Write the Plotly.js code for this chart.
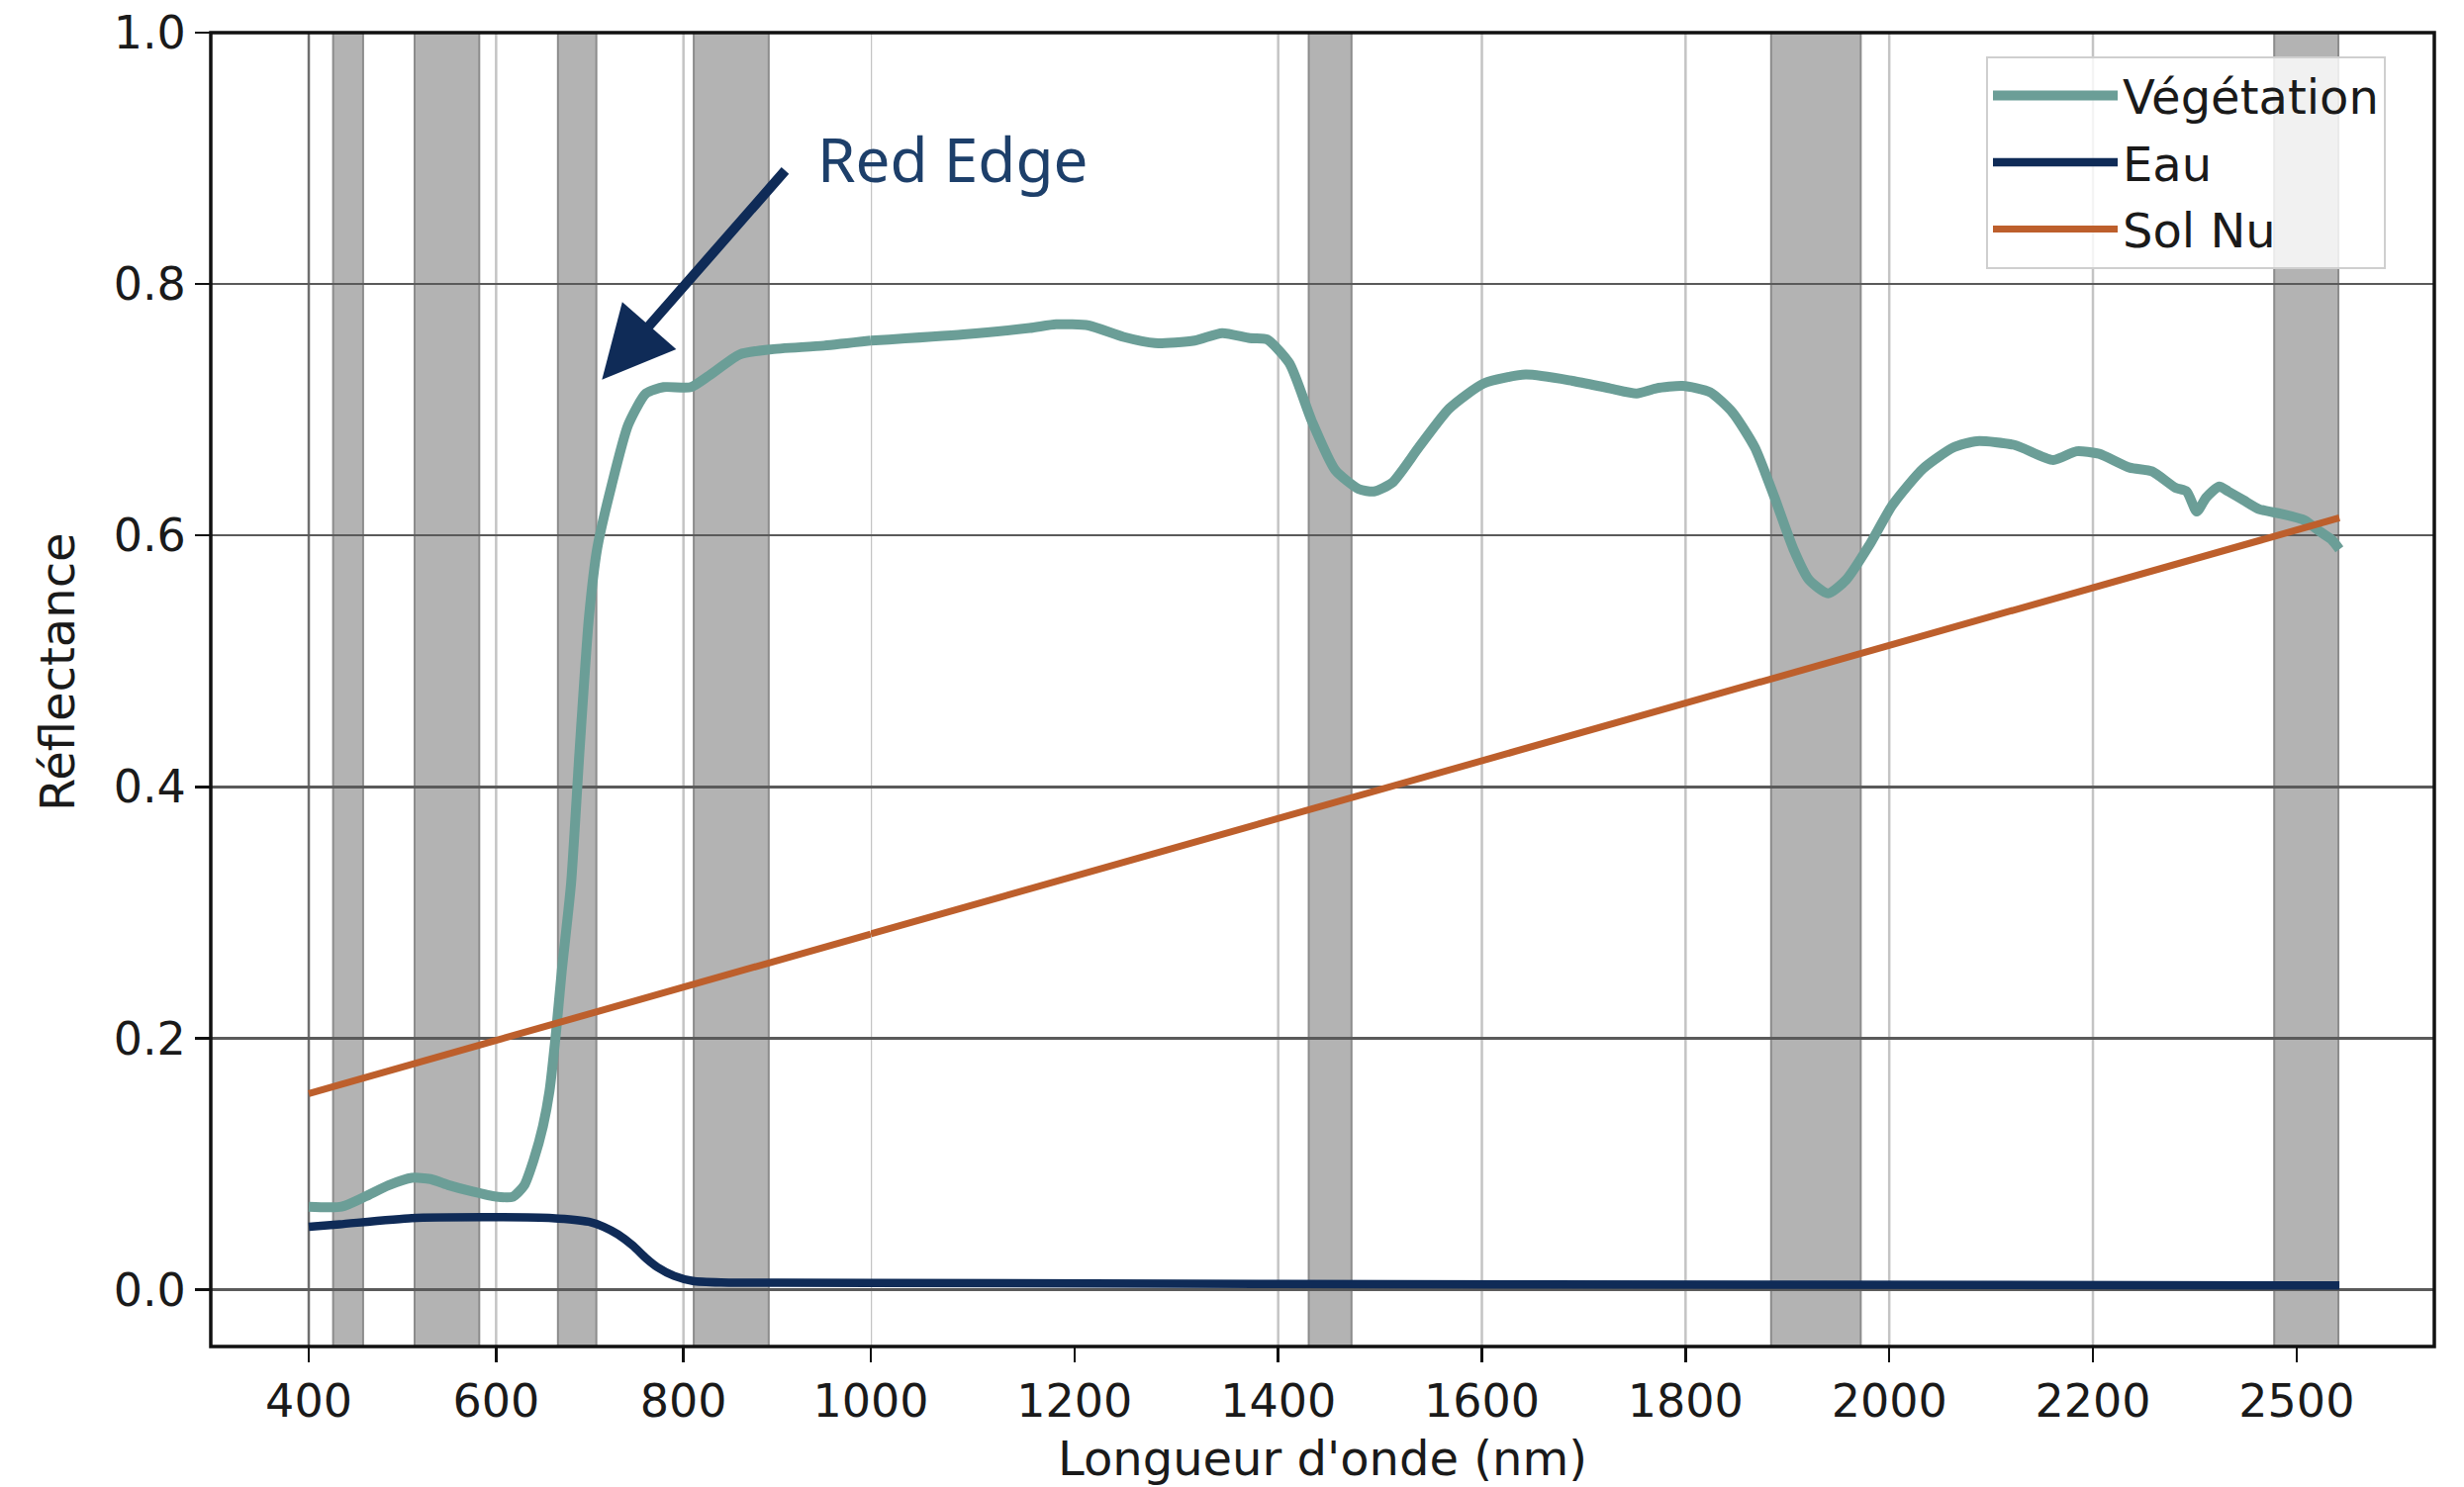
<!DOCTYPE html>
<html>
<head>
<meta charset="utf-8">
<script src="https://cdn.plot.ly/plotly-3.0.1.min.js"></script>
<style>
  html, body { margin: 0; padding: 0; background: #ffffff; }
  #chart { width: 2490px; height: 1503px; }
</style>
</head>
<body>
<div id="chart"></div>
<script>
// ---------------- data ----------------
const seriesNames = ['Végétation', 'Eau', 'Sol Nu'];
const seriesColors = ['#6b9e97', '#0f2b57', '#bd5f2c'];

const vegWl = [400, 435, 460, 485, 510, 530, 550, 575, 600, 618, 630, 640, 650, 657, 664, 670, 680, 689, 699, 708, 723, 741, 760, 779, 808, 827, 860, 892, 950, 1000,
  1091, 1156, 1182, 1214, 1248, 1279, 1318, 1345, 1372, 1389, 1411, 1433, 1456, 1479, 1494, 1512, 1538, 1568, 1602, 1643, 1689, 1726, 1752, 1771, 1797, 1824, 1846, 1868,
  1887, 1906, 1921, 1940, 1958, 1981, 2003, 2033, 2063, 2086, 2123, 2161, 2184, 2206, 2236, 2258, 2281, 2292, 2302, 2311, 2324, 2333, 2348, 2363, 2386, 2408, 2423, 2434, 2442];
const vegRefl = [0.066, 0.066, 0.074, 0.083, 0.089, 0.088, 0.083, 0.078, 0.074, 0.074, 0.083, 0.103, 0.130, 0.158, 0.205, 0.253, 0.323, 0.428, 0.534, 0.590, 0.639, 0.688, 0.713, 0.718, 0.718, 0.727, 0.744, 0.748, 0.751, 0.755,
  0.760, 0.765, 0.768, 0.767, 0.758, 0.753, 0.755, 0.761, 0.757, 0.756, 0.737, 0.691, 0.652, 0.637, 0.635, 0.642, 0.670, 0.701, 0.721, 0.728, 0.723, 0.717, 0.713, 0.717, 0.719, 0.714, 0.698, 0.670,
  0.631, 0.589, 0.565, 0.554, 0.565, 0.593, 0.624, 0.653, 0.670, 0.675, 0.672, 0.660, 0.667, 0.665, 0.654, 0.651, 0.638, 0.635, 0.619, 0.630, 0.639, 0.635, 0.628, 0.621, 0.617, 0.612, 0.603, 0.597, 0.589];

const eauWl = [400, 433, 510, 590, 660, 699, 715, 730, 746, 760, 772, 790, 810, 840, 900, 1000, 1400, 1900, 2442];
const eauRefl = [0.050, 0.052, 0.057, 0.0577, 0.057, 0.054, 0.050, 0.044, 0.035, 0.025, 0.018, 0.011, 0.007, 0.0058, 0.0055, 0.0054, 0.0045, 0.0040, 0.0034];

const solWl = [400, 600, 800, 1000, 1200, 1400, 1600, 1800, 2000, 2200, 2442];
const solRefl = [0.156, 0.198, 0.240, 0.283, 0.329, 0.375, 0.421, 0.467, 0.513, 0.559, 0.614];

// absorption bands (nm)
const bandStart = [426, 513, 666, 811, 1430, 1884, 2378];
const bandEnd   = [458, 582, 707, 891, 1472, 1972, 2441];

// tick labels
const xTickVals = [400, 600, 800, 1000, 1200, 1400, 1600, 1800, 2000, 2200, 2400];
const xTickText = ['400', '600', '800', '1000', '1200', '1400', '1600', '1800', '2000', '2200', '2500'];
const xGridVals = [400, 600, 800, 1000, 1400, 1600, 1800, 2000, 2200, 2400];
const yTickVals = [0, 0.2, 0.4, 0.6, 0.8, 1.0];
const yTickText = ['0.0', '0.2', '0.4', '0.6', '0.8', '1.0'];

const annotationText = 'Red Edge';
const xTitle = "Longueur d'onde (nm)";
const yTitle = 'Réflectance';

// ---------------- layout helpers ----------------
// the reference's x scale is tighter below 1000 nm than above: two linked linear axes
const splitWl = 1000;
const splitDomain = 0.29684;
const lineWidths = [10, 8.5, 7];

const allWl = [vegWl, eauWl, solWl];
const allRefl = [vegRefl, eauRefl, solRefl];

const traces = [];
for (let s = 0; s < seriesNames.length; s++) {
  const wl = allWl[s], r = allRefl[s];
  const lx = [], ly = [], rx = [], ry = [];
  for (let i = 0; i < wl.length; i++) {
    if (wl[i] <= splitWl) { lx.push(wl[i]); ly.push(r[i]); }
    if (wl[i] >= splitWl) { rx.push(wl[i]); ry.push(r[i]); }
  }
  const lineStyle = { color: seriesColors[s], width: lineWidths[s], shape: s === 2 ? 'linear' : 'spline', smoothing: 0.6 };
  traces.push({ x: lx, y: ly, xaxis: 'x', yaxis: 'y', type: 'scatter', mode: 'lines', name: seriesNames[s],
    legendgroup: seriesNames[s], showlegend: true, line: lineStyle, hoverinfo: 'x+y+name' });
  traces.push({ x: rx, y: ry, xaxis: 'x2', yaxis: 'y', type: 'scatter', mode: 'lines', name: seriesNames[s],
    legendgroup: seriesNames[s], showlegend: false, line: lineStyle, hoverinfo: 'x+y+name' });
}

const shapes = [];
// vertical grid lines (below the bands)
xGridVals.forEach(function (v, i) {
  shapes.push({ type: 'line', xref: v < splitWl ? 'x' : 'x2', yref: 'paper', x0: v, x1: v, y0: 0, y1: 1,
    line: { color: i === 0 ? '#6e6e6e' : '#c4c4c4', width: 2.5 }, layer: 'below' });
});
for (let b = 0; b < bandStart.length; b++) {
  const ax = bandEnd[b] <= splitWl ? 'x' : 'x2';
  shapes.push({ type: 'rect', xref: ax, yref: 'paper', x0: bandStart[b], x1: bandEnd[b], y0: 0, y1: 1,
    fillcolor: '#b3b3b3', line: { color: '#8c8c8c', width: 2 }, layer: 'below' });
}
// plot frame
shapes.push({ type: 'rect', xref: 'paper', yref: 'paper', x0: 0, x1: 1, y0: 0, y1: 1,
  line: { color: '#111111', width: 3.5 }, fillcolor: 'rgba(0,0,0,0)', layer: 'above' });

const tickFont = { family: 'DejaVu Sans, sans-serif', size: 46, color: '#1a1a1a' };
const xCommon = {
  type: 'linear', showline: false, zeroline: false, showgrid: false,
  ticks: 'outside', ticklen: 15, tickwidth: 2.5, tickcolor: '#111111', tickfont: tickFont, fixedrange: true
};

const layout = {
  width: 2490, height: 1503,
  margin: { l: 213, r: 30, t: 33, b: 142, pad: 0 },
  paper_bgcolor: '#ffffff', plot_bgcolor: '#ffffff',
  font: { family: 'DejaVu Sans, sans-serif', size: 46, color: '#1a1a1a' },
  showlegend: true,
  legend: {
    x: 0.7984, xanchor: 'left', y: 0.982, yanchor: 'top',
    bgcolor: 'rgba(255,255,255,0.82)', bordercolor: '#cfcfcf', borderwidth: 2,
    font: { family: 'DejaVu Sans, sans-serif', size: 48, color: '#1a1a1a' },
    itemwidth: 126, tracegroupgap: 2
  },
  xaxis: Object.assign({}, xCommon, {
    domain: [0, splitDomain], range: [295.4, splitWl], anchor: 'y',
    tickmode: 'array',
    tickvals: xTickVals.filter(v => v < splitWl),
    ticktext: xTickText.filter((t, i) => xTickVals[i] < splitWl)
  }),
  xaxis2: Object.assign({}, xCommon, {
    domain: [splitDomain, 1], range: [splitWl, 2535.2], anchor: 'y',
    tickmode: 'array',
    tickvals: xTickVals.filter(v => v >= splitWl),
    ticktext: xTickText.filter((t, i) => xTickVals[i] >= splitWl)
  }),
  yaxis: {
    range: [-0.0452, 1.0], anchor: 'x', showline: false, zeroline: false,
    showgrid: true, gridcolor: '#5a5a5a', gridwidth: 2.5,
    ticks: 'outside', ticklen: 15, tickwidth: 2.5, tickcolor: '#111111', tickfont: tickFont,
    tickmode: 'array', tickvals: yTickVals, ticktext: yTickText, fixedrange: true
  },
  shapes: shapes,
  annotations: [
    { xref: 'x', yref: 'y', x: 713, y: 0.724, axref: 'x', ayref: 'y', ax: 910, ay: 0.8915,
      text: '', showarrow: true, arrowhead: 2, arrowsize: 1.45, arrowwidth: 10, arrowcolor: '#0f2b57', standoff: 0 },
    { xref: 'x', yref: 'y', x: 941, y: 0.900, xanchor: 'left', yanchor: 'middle', showarrow: false,
      text: annotationText, font: { family: 'Noto Sans, sans-serif', size: 62, color: '#1d3f6a' } },
    { xref: 'paper', yref: 'paper', x: 0.5, y: -0.0851, xanchor: 'center', yanchor: 'middle', showarrow: false,
      text: xTitle, font: { family: 'DejaVu Sans, sans-serif', size: 48, color: '#1a1a1a' } },
    { xref: 'paper', yref: 'paper', x: -0.069, y: 0.5136, xanchor: 'center', yanchor: 'middle', showarrow: false,
      textangle: -90, text: yTitle, font: { family: 'DejaVu Sans, sans-serif', size: 48, color: '#1a1a1a' } }
  ]
};

Plotly.newPlot('chart', traces, layout, { displayModeBar: false, staticPlot: true });
</script>
</body>
</html>
